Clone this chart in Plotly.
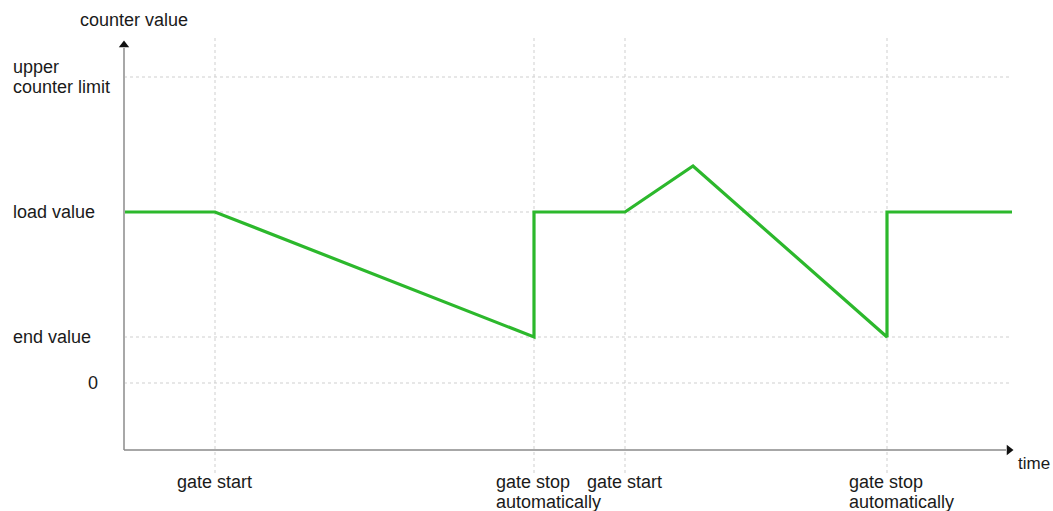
"""Counter value over time: gate start / automatic gate stop diagram."""

import plotly.graph_objects as go

# Counter levels (y) and event times (x)
level_values = [306, 171, 46, 0]
level_labels = [["upper", "counter limit"], ["load value"], ["end value"], ["0"]]

event_times = [91, 410, 501, 763]
event_labels = [["gate start"], ["gate stop", "automatically"],
                ["gate start"], ["gate stop", "automatically"]]

# Counter value curve
time_pts = [0, 91, 410, 410, 501, 569, 763, 763, 888]
counter_pts = [171, 171, 46, 171, 171, 217, 46, 171, 171]

# Axis extents
axis_y = -67
axis_top = 341
axis_right = 888
grid_top = 345
grid_bottom = -90

LINE_STEP = 20
FONT = "Liberation Sans, Arial, sans-serif"
GRID = "#cfcfcf"

fig = go.Figure()

# Dotted grid lines
for lv in level_values:
    fig.add_shape(type="line", x0=0, x1=axis_right, y0=lv, y1=lv,
                  line=dict(color=GRID, width=1, dash="dot"), layer="below")
for t in event_times:
    fig.add_shape(type="line", x0=t, x1=t, y0=grid_bottom, y1=grid_top,
                  line=dict(color=GRID, width=1, dash="dot"), layer="below")

# Axes with arrows
fig.add_shape(type="line", x0=0, x1=0, y0=axis_y, y1=axis_top - 6,
              line=dict(color="#a8a8a8", width=2))
fig.add_shape(type="line", x0=0, x1=axis_right - 6, y0=axis_y, y1=axis_y,
              line=dict(color="#8a8a8a", width=1.5))
fig.add_trace(go.Scatter(x=[0], y=[axis_top - 3], mode="markers",
                         marker=dict(symbol="triangle-up", size=9, color="#111111"),
                         hoverinfo="skip"))
fig.add_trace(go.Scatter(x=[axis_right - 3], y=[axis_y], mode="markers",
                         marker=dict(symbol="triangle-right", size=9, color="#111111"),
                         hoverinfo="skip"))

# Counter value curve
fig.add_trace(go.Scatter(x=time_pts, y=counter_pts, mode="lines",
                         line=dict(color="#2cb82c", width=3.2), hoverinfo="skip"))

annotations = []
for lv, lines in zip(level_values, level_labels):
    if lines == ["0"]:
        annotations.append(dict(x=-24, y=lv, text="0", xanchor="right"))
        continue
    # multi-line labels are centred on their level
    y0 = lv + (len(lines) - 1) * LINE_STEP / 2
    for i, line in enumerate(lines):
        annotations.append(dict(x=-113, y=y0 - i * LINE_STEP, text=line, xanchor="left"))
for t, lines in zip(event_times, event_labels):
    for i, line in enumerate(lines):
        annotations.append(dict(x=t - 40, y=-99 - i * LINE_STEP, text=line, xanchor="left"))
annotations.append(dict(x=-46, y=363, text="counter value", xanchor="left"))
annotations.append(dict(x=892, y=-80, text="time", xanchor="left"))

for a in annotations:
    a.update(xref="x", yref="y", showarrow=False, yanchor="middle",
             font=dict(family=FONT, size=18, color="#1a1a1a"))
annotations[-1]["font"]["size"] = 17

# figure fills the whole window; axis ranges cover it (1 unit = 1 px)
fig.update_layout(
    width=1053,
    height=511,
    margin=dict(l=0, r=0, t=0, b=0),
    plot_bgcolor="white",
    paper_bgcolor="white",
    showlegend=False,
    annotations=annotations,
    xaxis=dict(range=[-124, 929], visible=False, fixedrange=True),
    yaxis=dict(range=[-128, 383], visible=False, fixedrange=True),
)

fig.write_html(
    "out.html",
    config={"displayModeBar": False},
    post_script="document.body.style.margin='0';document.body.style.overflow='hidden';",
)
